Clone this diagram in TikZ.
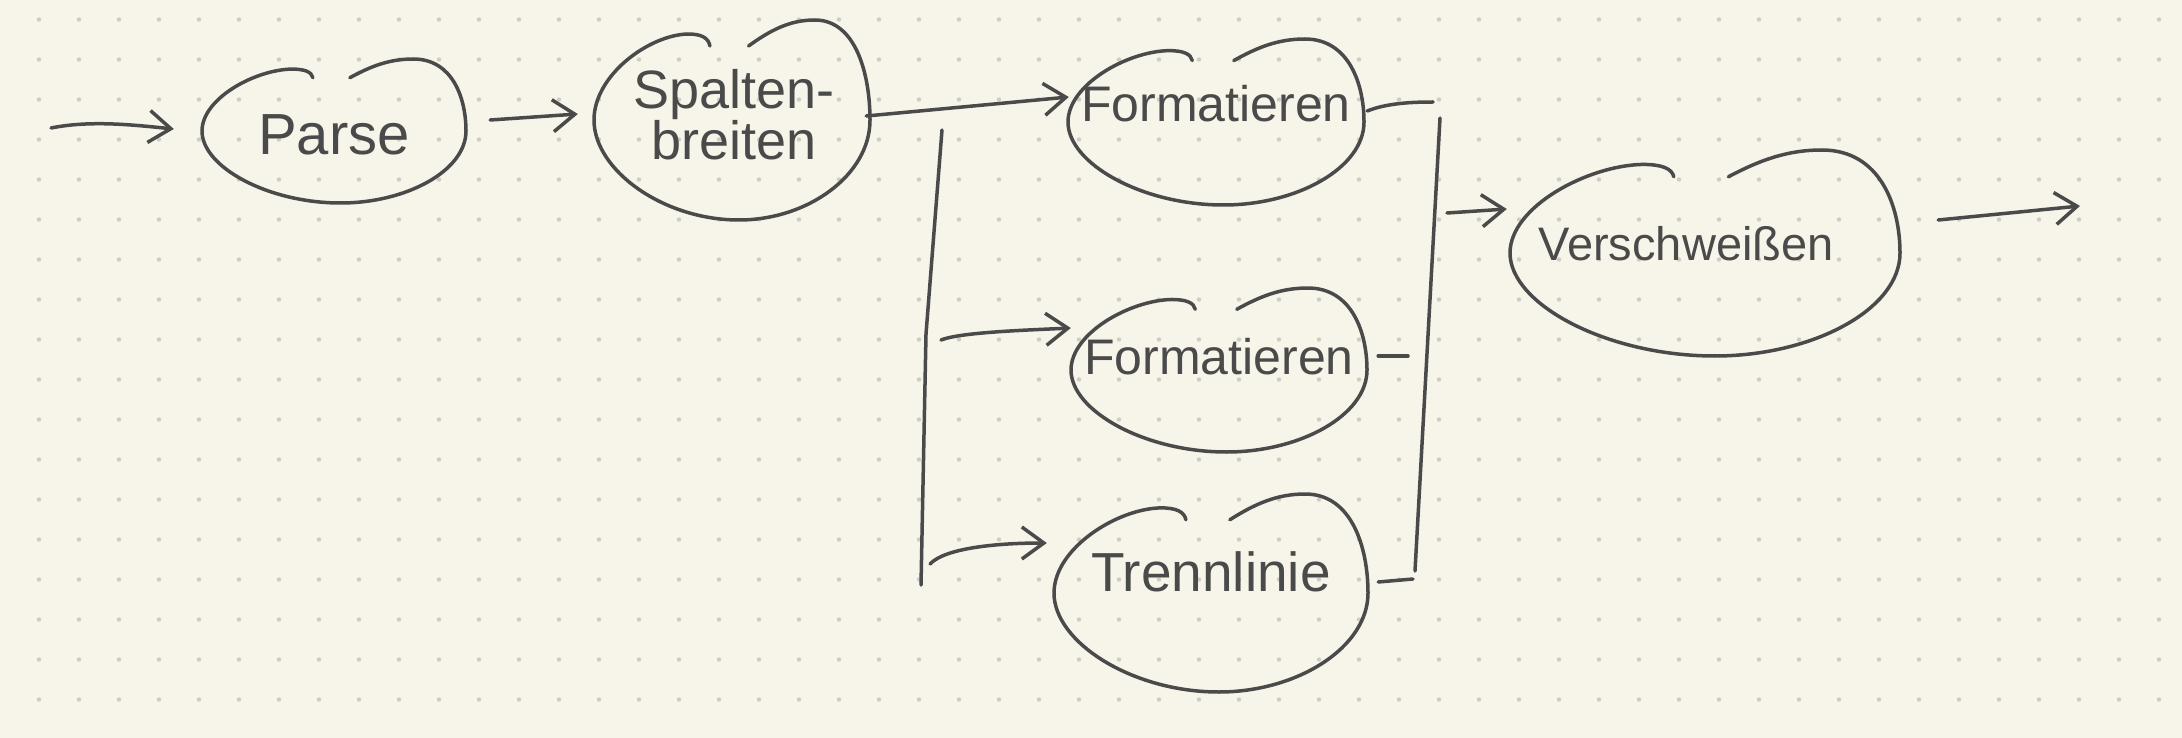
\documentclass[tikz,border=0pt]{standalone}
\usepackage{fontspec}
\setmainfont{Liberation Sans}
\usetikzlibrary{arrows.meta,calc,shapes.geometric}
\definecolor{paper}{HTML}{F7F5E9}
\definecolor{dotc}{HTML}{CFCDC3}
\definecolor{ink}{HTML}{4A4A4A}
\tikzset{
  stroke/.style={draw=ink, line width=3.5pt, line cap=round, line join=round},
  arr/.style={stroke, -{Straight Barb[length=22pt,width=32pt]}},
  blobnode/.style={shape=ellipse, draw=none, inner sep=0pt},
  lbl/.style={text=ink, inner sep=0pt, align=center},
}
\newcommand\blobpath[3]{%
  \draw[stroke, shift={(#1.center)}, xscale=#2, yscale=#3]
    (0.12,-0.74) .. controls (0.28,-0.9) and (0.42,-1.0) .. (0.6,-1.0)
    .. controls (0.9,-1.0) and (1.0,-0.45) .. (1.0,0.0)
    .. controls (1.0,0.55) and (0.55,1.0) .. (0.05,1.0)
    .. controls (-0.5,1.0) and (-1.0,0.5) .. (-1.0,0.0)
    .. controls (-1.0,-0.45) and (-0.6,-0.85) .. (-0.32,-0.86)
    .. controls (-0.22,-0.86) and (-0.17,-0.82) .. (-0.16,-0.74);}
\begin{document}
\begin{tikzpicture}[x=1pt,y=-1pt]
\useasboundingbox (0,0) rectangle (2182,738);
\fill[paper] (0,0) rectangle (2182,738);
\foreach \i in {0,...,53} \foreach \j in {0,...,17}
  \fill[dotc] ({39+40*\i},{19.5+40*\j}) circle[radius=2.2pt];

% blob nodes
\node[blobnode, minimum width=264pt, minimum height=144pt] (parse) at (334,131) {};
\node[blobnode, minimum width=276pt, minimum height=200pt] (spalt) at (732,120) {};
\node[blobnode, minimum width=296pt, minimum height=166pt] (form1) at (1216,122) {};
\node[blobnode, minimum width=296pt, minimum height=164pt] (form2) at (1219,370) {};
\node[blobnode, minimum width=314pt, minimum height=198pt] (trenn) at (1211,593) {};
\node[blobnode, minimum width=390pt, minimum height=206pt] (versch) at (1705,253) {};

\blobpath{parse}{132}{72}
\blobpath{spalt}{138}{100}
\blobpath{form1}{148}{83}
\blobpath{form2}{148}{82}
\blobpath{trenn}{157}{99}
\blobpath{versch}{195}{103}

% labels
\node[lbl, font=\fontsize{58pt}{58pt}\selectfont] (parseT) at ($(parse)+(0,4)$) {Parse};
\node[lbl, font=\fontsize{54pt}{50pt}\selectfont] (spaltT) at ($(spalt)+(2,-5)$) {Spalten-\\breiten};
\node[lbl, font=\fontsize{50pt}{50pt}\selectfont] (form1T) at ($(form1)+(0,-18)$) {Formatieren};
\node[lbl, font=\fontsize{50pt}{50pt}\selectfont] (form2T) at ($(form2)+(0,-13)$) {Formatieren};
\node[lbl, font=\fontsize{55pt}{55pt}\selectfont] (trennT) at ($(trenn)+(0,-21)$) {Trennlinie};
\node[lbl, font=\fontsize{47pt}{47pt}\selectfont] (verschT) at ($(versch)+(-19,-9)$) {Verschweißen};

% free ends
\coordinate (in1) at (51,128);
\coordinate (out1) at (2080,206);
\coordinate (busLT) at (942,130);
\coordinate (busLM) at (926,334);
\coordinate (busLB) at (921,585);
\coordinate (busRT) at (1440,118);
\coordinate (busRB) at (1415,571);
\coordinate (f1o) at (1433,102);
\coordinate (f2o) at (1408,356);
\coordinate (tro) at (1413,579);

% connectors
\draw[arr] (in1) .. controls +(40,-8) and +(-40,-4) .. ($(parse.west)+(-28,-2)$);
\draw[arr] ($(parse.east)+(24,-11)$) -- ($(spalt.west)+(-16,-6)$);
\draw[arr] ($(spalt.east)+(-4,-4)$) -- ($(form1.west)+(1,-25)$);
\draw[stroke] (busLT) -- (busLM) -- (busLB);
\draw[arr] ($(busLM)+(15,6)$) .. controls +(20,-8) and +(-40,2) .. ($(form2.west)+(0,-42)$);
\draw[arr] ($(busLB)+(9,-21)$) .. controls +(15,-16) and +(-50,0) .. ($(trenn.west)+(-7,-50)$);
\draw[stroke] ($(form1.east)+(3,-11)$) .. controls +(20,-8) and +(-20,0) .. (f1o);
\draw[stroke] ($(form2.east)+(11,-14)$) -- (f2o);
\draw[stroke] ($(trenn.east)+(10,-11)$) -- (tro);
\draw[stroke] (busRT) -- (busRB);
\draw[arr] ($(busRT)+(7,95)$) -- ($(versch.west)+(-3,-44)$);
\draw[arr] ($(versch.east)+(38,-33)$) -- (out1);
\end{tikzpicture}
\end{document}
